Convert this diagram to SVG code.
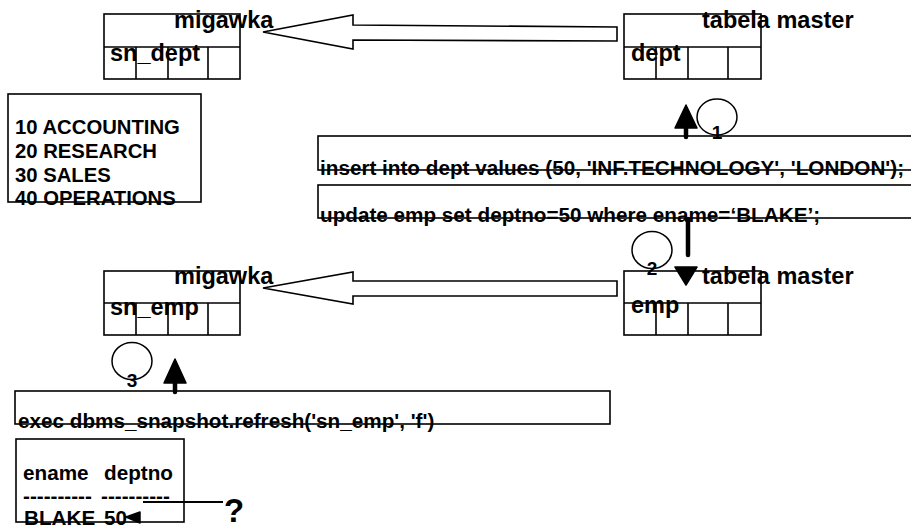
<svg xmlns="http://www.w3.org/2000/svg" width="911" height="528" viewBox="0 0 911 528">
  <style>
    .ln{fill:none;stroke:#000;stroke-width:1.6}
    .box{fill:#fff;stroke:#000;stroke-width:1.6}
    .hollow{fill:#fff;stroke:#000;stroke-width:1.6;stroke-linejoin:miter}
    .solid{fill:#000;stroke:#000;stroke-width:1.5;stroke-linejoin:round}
    .shaft{fill:none;stroke:#000;stroke-width:4.5;stroke-linecap:round}
    .ring{fill:none;stroke:#000;stroke-width:1.5}
    text{font-family:"Liberation Sans",Arial,Helvetica,sans-serif;font-weight:bold;fill:#000}
    .t{font-size:23.5px}
    .b{font-size:20.7px}
    .l{font-size:20.3px}
    .n{font-size:19px;text-anchor:middle}
    .q{font-size:33px}
  </style>
  <rect width="911" height="528" fill="#fff"/>

  <!-- snapshot sn_dept -->
  <g id="sn_dept">
    <rect class="box" x="104" y="14" width="136" height="65"/>
    <path class="ln" d="M104 47H240M136 47V79M168 47V79M208 47V79"/>
    <text class="t" x="174" y="28">migawka</text>
    <text class="t" x="110" y="61">sn_dept</text>
  </g>

  <!-- master table dept -->
  <g id="dept">
    <rect class="box" x="624" y="14" width="137" height="65"/>
    <path class="ln" d="M624 47H761M656 47V79M688 47V79M728 47V79"/>
    <text class="t" x="702" y="28">tabela master</text>
    <text class="t" x="631" y="61">dept</text>
  </g>

  <!-- contents of sn_dept -->
  <g id="dept_rows">
    <rect class="box" x="8" y="94" width="193" height="108"/>
    <text class="l" x="15" y="134">10 ACCOUNTING</text>
    <text class="l" x="15" y="158">20 RESEARCH</text>
    <text class="l" x="15" y="182">30 SALES</text>
    <text class="l" x="15" y="205">40 OPERATIONS</text>
  </g>

  <!-- step 1: insert -->
  <g id="insert_stmt">
    <rect class="box" x="318" y="136" width="600" height="34"/>
    <text class="b" x="320" y="175">insert into dept values (50, 'INF.TECHNOLOGY', 'LONDON');</text>
  </g>

  <!-- step 2: update -->
  <g id="update_stmt">
    <rect class="box" x="318" y="185" width="600" height="33"/>
    <text class="b" x="320" y="222">update emp set deptno=50 where ename=‘BLAKE’;</text>
  </g>

  <!-- snapshot sn_emp -->
  <g id="sn_emp">
    <rect class="box" x="104" y="271" width="136" height="64"/>
    <path class="ln" d="M104 303H240M136 303V335M168 303V335M208 303V335"/>
    <text class="t" x="174" y="284">migawka</text>
    <text class="t" x="110" y="315">sn_emp</text>
  </g>

  <!-- master table emp -->
  <g id="emp">
    <rect class="box" x="624" y="271" width="137" height="64"/>
    <path class="ln" d="M624 303H761M656 303V335M688 303V335M728 303V335"/>
    <text class="t" x="702" y="284">tabela master</text>
    <text class="t" x="631" y="313">emp</text>
  </g>

  <!-- step 3: refresh -->
  <g id="refresh_stmt">
    <rect class="box" x="15" y="391" width="595" height="33"/>
    <text class="b" x="18" y="428">exec dbms_snapshot.refresh('sn_emp', 'f')</text>
  </g>

  <!-- query result -->
  <g id="result">
    <rect class="ln" x="16" y="439" width="168" height="83"/>
    <text class="b" x="23" y="480">ename</text>
    <text class="b" x="104" y="480">deptno</text>
    <text class="b" x="23" y="503">----------</text>
    <text class="b" x="101" y="503">----------</text>
    <text class="b" x="24" y="525">BLAKE</text>
    <text class="b" x="104" y="525">50</text>
  </g>

  <!-- step markers -->
  <g id="step1">
    <ellipse class="ring" cx="717" cy="117" rx="20" ry="18"/>
    <text class="n" x="717" y="139">1</text>
  </g>
  <g id="step2">
    <ellipse class="ring" cx="652" cy="250" rx="20" ry="18.5"/>
    <text class="n" x="652" y="275">2</text>
  </g>
  <g id="step3">
    <ellipse class="ring" cx="132" cy="361" rx="20" ry="18.5"/>
    <text class="n" x="132" y="387">3</text>
  </g>
  <text id="question" class="q" x="224" y="522">?</text>

  <!-- connectors -->
  <g id="connectors">
    <!-- replication arrows: master -> snapshot -->
    <polygon class="hollow" points="263,32 353,15 353,25 617,27 617,41 353,40 353,49"/>
    <polygon class="hollow" points="263,288 353,272 353,281 617,281 617,296 353,296 353,304"/>
    <!-- step 1: insert goes up to dept -->
    <line class="shaft" x1="686" y1="137" x2="686" y2="122"/>
    <polygon class="solid" points="686,105 697,128 675,128"/>
    <!-- step 2: update goes down to emp -->
    <line class="shaft" x1="688" y1="219" x2="688" y2="255"/>
    <polygon class="solid" points="675,267 697,267 686,285"/>
    <!-- step 3: refresh goes up to sn_emp -->
    <line class="shaft" x1="175" y1="392" x2="175" y2="376"/>
    <polygon class="solid" points="175,359 186,383 164,383"/>
    <!-- question pointer -->
    <line x1="143" y1="502" x2="223" y2="502" stroke="#000" stroke-width="2"/>
    <polygon class="solid" points="126,517 140,512 140,523"/>
  </g>
</svg>
